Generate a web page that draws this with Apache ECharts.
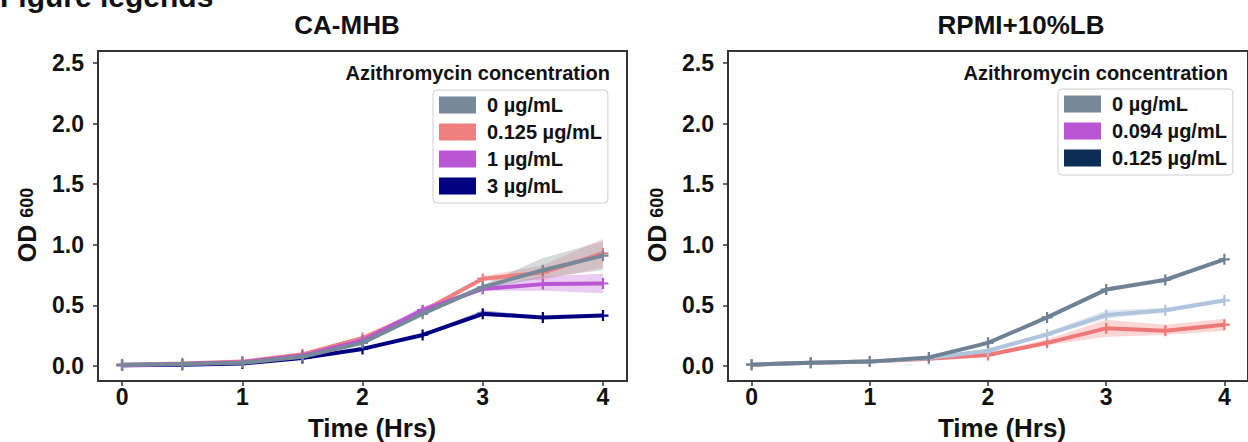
<!DOCTYPE html>
<html>
<head>
<meta charset="utf-8">
<script src="https://cdn.jsdelivr.net/npm/echarts@6/dist/echarts.min.js"></script>
<style>
html,body{margin:0;padding:0;background:#fff;}
#chart{width:1248px;height:442px;}
</style>
</head>
<body>
<div id="chart"></div>
<script>
// ---------- data ----------
const times = [0, 0.5, 1, 1.5, 2, 2.5, 3, 3.5, 4];
const xTicks = [0, 1, 2, 3, 4];
const yTicks = [0, 0.5, 1.0, 1.5, 2.0, 2.5];

// CA-MHB panel
const caNames = ['0 µg/mL', '0.125 µg/mL', '1 µg/mL', '3 µg/mL'];
const ca0 = [0.01, 0.015, 0.025, 0.075, 0.19, 0.43, 0.65, 0.79, 0.91];
const ca0Lo = [0.0, 0.01, 0.02, 0.07, 0.18, 0.41, 0.63, 0.73, 0.79];
const ca0Hi = [0.02, 0.02, 0.03, 0.08, 0.20, 0.45, 0.67, 0.89, 1.03];
const ca0125 = [0.01, 0.02, 0.035, 0.095, 0.23, 0.45, 0.72, 0.77, 0.93];
const ca0125Lo = [0.0, 0.015, 0.03, 0.09, 0.22, 0.43, 0.70, 0.71, 0.81];
const ca0125Hi = [0.02, 0.025, 0.04, 0.10, 0.24, 0.47, 0.74, 0.83, 1.05];
const ca1 = [0.005, 0.015, 0.03, 0.085, 0.21, 0.46, 0.635, 0.675, 0.68];
const ca1Lo = [0.0, 0.01, 0.025, 0.08, 0.20, 0.43, 0.62, 0.62, 0.60];
const ca1Hi = [0.01, 0.02, 0.035, 0.09, 0.225, 0.49, 0.65, 0.74, 0.76];
const ca3 = [0.005, 0.01, 0.02, 0.065, 0.14, 0.255, 0.43, 0.40, 0.415];
const ca3Lo = [0.0, 0.005, 0.015, 0.06, 0.13, 0.245, 0.41, 0.39, 0.405];
const ca3Hi = [0.01, 0.015, 0.025, 0.07, 0.15, 0.265, 0.46, 0.41, 0.425];

// RPMI+10%LB panel
const rpNames = ['0 µg/mL', '0.094 µg/mL', '0.125 µg/mL'];
const rp0 = [0.01, 0.025, 0.035, 0.07, 0.19, 0.40, 0.63, 0.71, 0.88];
const rp0Lo = [0.005, 0.02, 0.03, 0.065, 0.18, 0.39, 0.615, 0.69, 0.87];
const rp0Hi = [0.015, 0.03, 0.04, 0.075, 0.20, 0.41, 0.645, 0.73, 0.89];
const rpA = [0.01, 0.025, 0.035, 0.065, 0.125, 0.26, 0.42, 0.46, 0.54];
const rpALo = [0.005, 0.02, 0.03, 0.06, 0.11, 0.24, 0.39, 0.44, 0.53];
const rpAHi = [0.015, 0.03, 0.04, 0.07, 0.14, 0.28, 0.46, 0.48, 0.56];
const rpB = [0.01, 0.025, 0.035, 0.058, 0.09, 0.19, 0.31, 0.29, 0.34];
const rpBLo = [0.005, 0.02, 0.03, 0.05, 0.075, 0.17, 0.24, 0.255, 0.29];
const rpBHi = [0.015, 0.03, 0.04, 0.066, 0.105, 0.22, 0.38, 0.34, 0.39];

// ---------- styling ----------
const FONT = "'Liberation Sans', Arial, sans-serif";
const PLUS = 'path://M4,0 L6,0 L6,4 L10,4 L10,6 L6,6 L6,10 L4,10 L4,6 L0,6 L0,4 L4,4 Z';

function pairs(v) { return times.map((t, i) => [t, v[i]]); }

// confidence band drawn as one polygon through the axis scales
function band(idx, lo, hi, color) {
  const rows = times.map((t, i) => [t, lo[i], hi[i]]);
  return {
    type: 'custom', xAxisIndex: idx, yAxisIndex: idx, silent: true, z: 1,
    data: rows,
    encode: { x: 0, y: [1, 2] },
    renderItem: function (params, api) {
      if (params.dataIndex !== 0) return null;
      const upper = rows.map(r => api.coord([r[0], r[2]]));
      const lower = rows.map(r => api.coord([r[0], r[1]])).reverse();
      return { type: 'polygon', shape: { points: upper.concat(lower) }, style: { fill: color, stroke: null } };
    }
  };
}
function line(idx, name, vals, color, z) {
  return { type: 'line', name: name, xAxisIndex: idx, yAxisIndex: idx, data: pairs(vals),
    symbol: PLUS, symbolSize: 11, showSymbol: true,
    lineStyle: { color: color, width: 4 }, itemStyle: { color: color }, z: z };
}

const tickStyle = { color: '#111', fontSize: 23, fontWeight: 'bold', fontFamily: FONT };

function xAx(idx) {
  return { type: 'value', gridIndex: idx, min: -0.2, max: 4.2,
    axisLine: { show: false, onZero: false }, splitLine: { show: false },
    axisTick: { show: true, length: 5, customValues: xTicks, lineStyle: { color: '#333', width: 1.5 } },
    axisLabel: Object.assign({ margin: 4, customValues: xTicks, formatter: v => String(v) }, tickStyle) };
}
function yAx(idx) {
  return { type: 'value', gridIndex: idx, min: -0.125, max: 2.6,
    axisLine: { show: false, onZero: false }, splitLine: { show: false },
    axisTick: { show: true, length: 5, customValues: yTicks, lineStyle: { color: '#333', width: 1.5 } },
    axisLabel: Object.assign({ margin: 14, customValues: yTicks, formatter: v => v.toFixed(1) }, tickStyle) };
}

function legend(left, top, names, colors) {
  return { left: left, top: top, orient: 'vertical', selectedMode: false, icon: 'rect',
    itemWidth: 37, itemHeight: 17, itemGap: 7,
    padding: [5, 6, 7, 6], borderColor: '#cfcfcf', borderWidth: 1, borderRadius: 4,
    backgroundColor: '#fff',
    textStyle: { fontSize: 20, fontWeight: 'bold', color: '#111', fontFamily: FONT, lineHeight: 20, padding: [0, 0, 0, 6] },
    data: names.map((n, i) => ({ name: n, itemStyle: { color: colors[i], borderWidth: 0 } })) };
}

function txt(x, y, text, size, align, vAlign) {
  return { type: 'text', x: x, y: y, silent: true,
    style: { text: text, fill: '#111', font: 'bold ' + size + 'px ' + FONT, align: align, verticalAlign: vAlign || 'middle' } };
}
function odLabel(x, y) {
  return { type: 'text', x: x, y: y, rotation: Math.PI / 2, silent: true,
    style: { text: '{a|OD }{b|600}', align: 'center', verticalAlign: 'middle',
      rich: { a: { font: 'bold 25px ' + FONT, fill: '#111' }, b: { font: 'bold 18px ' + FONT, fill: '#111' } } } };
}

const caColors = ['#778899', '#F08080', '#BA55D3', '#000080'];
const rpLineColors = ['#6F8294', '#B0C4DE', '#EE7777'];
const rpLegendColors = ['#778899', '#BA55D3', '#0C2C55'];

const series = [
  band(0, ca3Lo, ca3Hi, 'rgba(0,0,128,0.3)'),
  band(0, ca0125Lo, ca0125Hi, 'rgba(240,128,128,0.3)'),
  band(0, ca1Lo, ca1Hi, 'rgba(186,85,211,0.3)'),
  band(0, ca0Lo, ca0Hi, 'rgba(119,136,153,0.3)'),
  line(0, caNames[3], ca3, caColors[3], 3),
  line(0, caNames[1], ca0125, caColors[1], 4),
  line(0, caNames[2], ca1, caColors[2], 5),
  line(0, caNames[0], ca0, caColors[0], 6),
  band(1, rpBLo, rpBHi, 'rgba(238,119,119,0.3)'),
  band(1, rpALo, rpAHi, 'rgba(176,196,222,0.35)'),
  band(1, rp0Lo, rp0Hi, 'rgba(111,130,148,0.3)'),
  line(1, rpNames[2], rpB, rpLineColors[2], 3),
  line(1, rpNames[1], rpA, rpLineColors[1], 4),
  line(1, rpNames[0], rp0, rpLineColors[0], 5)
];

const chart = echarts.init(document.getElementById('chart'), null, { renderer: 'svg' });
chart.setOption({
  animation: false,
  backgroundColor: '#fff',
  grid: [
    { left: 98, top: 51, width: 529, height: 330, show: true, borderColor: '#333', borderWidth: 2, backgroundColor: 'transparent' },
    { left: 728, top: 51, width: 529, height: 330, show: true, borderColor: '#333', borderWidth: 2, backgroundColor: 'transparent' }
  ],
  xAxis: [xAx(0), xAx(1)],
  yAxis: [yAx(0), yAx(1)],
  legend: [
    legend(433, 90, caNames, caColors),
    legend(1058, 89, rpNames, rpLegendColors)
  ],
  series: series,
  graphic: [
    txt(0, 11, 'Figure legends', 30, 'left', 'bottom'),
    txt(347, 25, 'CA-MHB', 26, 'center'),
    txt(1021, 25, 'RPMI+10%LB', 26, 'center'),
    txt(372, 428, 'Time (Hrs)', 26, 'center'),
    txt(1002, 428, 'Time (Hrs)', 26, 'center'),
    odLabel(27, 225),
    odLabel(657, 225),
    txt(610, 73, 'Azithromycin concentration', 20, 'right'),
    txt(1228, 73, 'Azithromycin concentration', 20, 'right')
  ]
});
</script>
</body>
</html>
